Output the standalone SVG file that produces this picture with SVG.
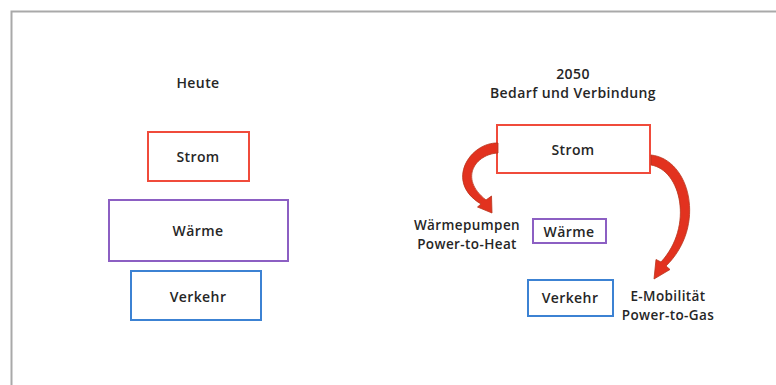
<svg xmlns="http://www.w3.org/2000/svg" width="776" height="385" viewBox="0 0 776 385">
<style>
.t{font-family:"Open Sans","Liberation Sans",sans-serif;font-weight:600;font-size:14px;letter-spacing:0.4px;fill:#262626;text-anchor:middle}
.s{font-size:13.5px}
.box{fill:#fff;stroke-width:2}
.red{stroke:#f04b3b}
.pur{stroke:#8c5fc3}
.blu{stroke:#3c82d3}
.arr{fill:#e2321f;stroke:#b8341c;stroke-width:0.8}
</style>
<rect width="776" height="385" fill="#fff"/>
<path d="M11.5 385 V11.5 H776" fill="none" stroke="#a9a9a9" stroke-width="2"/>
<g id="heute"><text class="t" x="198" y="88">Heute</text></g>
<g id="strom-heute"><rect class="box red" x="148" y="132" width="101" height="49"/><text class="t" x="198" y="162">Strom</text></g>
<g id="waerme-heute"><rect class="box pur" x="109" y="200" width="179" height="61"/><text class="t" x="198" y="236">Wärme</text></g>
<g id="verkehr-heute"><rect class="box blu" x="131" y="271" width="130" height="49"/><text class="t" x="198" y="302">Verkehr</text></g>
<g id="titel-2050"><text class="t" x="573" y="79">2050</text><text class="t" x="573" y="98">Bedarf und Verbindung</text></g>
<g id="strom-2050"><rect class="box red" x="497" y="125" width="153" height="48"/><text class="t" x="573" y="155">Strom</text></g>
<g id="waerme-2050"><rect class="box pur" x="533" y="219" width="73" height="24"/><text class="t" x="569" y="237">Wärme</text></g>
<g id="verkehr-2050"><rect class="box blu" x="528" y="280" width="85" height="36"/><text class="t" x="570" y="303">Verkehr</text></g>
<g id="label-heat"><text class="t s" x="467" y="230">Wärmepumpen</text><text class="t s" x="467" y="249">Power-to-Heat</text></g>
<g id="label-gas"><text class="t s" x="668" y="301">E-Mobilität</text><text class="t s" x="668" y="320">Power-to-Gas</text></g>
<g id="connectors">
<path class="arr" d="M498 143 C470 142 444 182 481 204 L477.5 207 L492 213 L491.5 196 L486 200 C458 178 476 154 498 153 Z"/>
<path class="arr" d="M651 155 C690 159 707 226 666 266 L670 269.5 L654 279 L656 259.5 L661 262 C694 226 681 170 651 165 Z"/>
</g>
</svg>
